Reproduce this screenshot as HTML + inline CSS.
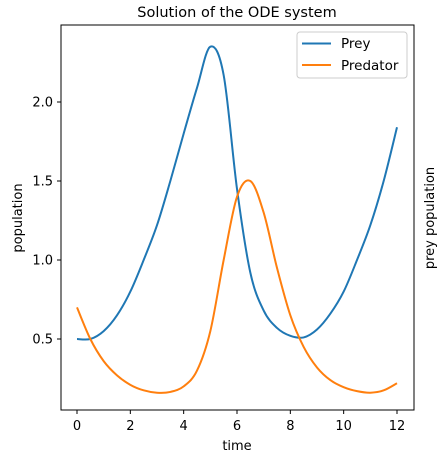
<!DOCTYPE html>
<html><head><meta charset="utf-8"><style>
body{margin:0;background:#fff;width:443px;height:463px;overflow:hidden}
text{font-family:"DejaVu Sans","Liberation Sans",sans-serif;fill:#000}
</style></head><body>
<svg id="chart" width="443" height="463" xmlns="http://www.w3.org/2000/svg">
<text x="237" y="17" font-size="14.5" text-anchor="middle">Solution of the ODE system</text>
<g id="ticks"></g>
<g id="lines"></g>
<rect x="61" y="25" width="353" height="385" fill="none" stroke="#000" stroke-width="1"/>
<text x="237" y="450" font-size="13" text-anchor="middle">time</text>
<text transform="translate(22,218) rotate(-90)" font-size="13" text-anchor="middle">population</text>
<text transform="translate(434,218) rotate(-90)" font-size="13" text-anchor="middle">prey population</text>
<g>
<rect x="297" y="32" width="110" height="46" rx="3" fill="#fff" fill-opacity="0.8" stroke="#ccc"/>
<line x1="302" y1="43.5" x2="331" y2="43.5" stroke="#1f77b4" stroke-width="2"/>
<text x="341" y="48" font-size="13.5">Prey</text>
<line x1="302" y1="65" x2="331" y2="65" stroke="#ff7f0e" stroke-width="2"/>
<text x="341" y="70" font-size="13.5">Predator</text>
</g>
</svg>
<script>
const times=[0,0.5,1,1.5,2,2.5,3,3.5,4,4.5,5,5.5,6,6.5,7,7.5,8,8.5,9,9.5,10,10.5,11,11.5,12];
const prey=[0.50,0.50,0.55,0.65,0.80,1.0,1.22,1.5,1.8,2.09,2.35,2.17,1.45,0.92,0.68,0.57,0.52,0.51,0.56,0.66,0.80,1.0,1.22,1.5,1.84];
const predator=[0.70,0.50,0.36,0.27,0.21,0.175,0.16,0.165,0.20,0.30,0.55,1.00,1.40,1.50,1.30,0.95,0.65,0.45,0.32,0.24,0.195,0.17,0.16,0.175,0.22];
const xTicks=[0,2,4,6,8,10,12];
const yTicks=[0.5,1.0,1.5,2.0];
const NS="http://www.w3.org/2000/svg";
function sx(t){return 77+t*(320/12);}
function sy(v){return 418-v*158;}
const tg=document.getElementById('ticks');
xTicks.forEach(t=>{
 const l=document.createElementNS(NS,'line');
 l.setAttribute('x1',sx(t));l.setAttribute('x2',sx(t));l.setAttribute('y1',410);l.setAttribute('y2',414);l.setAttribute('stroke','#000');
 
 
 tg.appendChild(l);
 const tx=document.createElementNS(NS,'text');
 tx.setAttribute('x',sx(t));tx.setAttribute('y',430);tx.setAttribute('font-size','13');tx.setAttribute('text-anchor','middle');
 tx.textContent=t;
 
 
 tg.appendChild(tx);
});
yTicks.forEach(v=>{
 const l=document.createElementNS(NS,'line');
 l.setAttribute('x1',57);l.setAttribute('x2',61);l.setAttribute('y1',sy(v));l.setAttribute('y2',sy(v));l.setAttribute('stroke','#000');
 
 
 tg.appendChild(l);
 const tx=document.createElementNS(NS,'text');
 tx.setAttribute('x',53);tx.setAttribute('y',sy(v)+4.5);tx.setAttribute('font-size','13');tx.setAttribute('text-anchor','end');
 tx.textContent=v.toFixed(1);
 
 
 tg.appendChild(tx);
});
function path(vals){
 const p=times.map((t,i)=>[sx(t),sy(vals[i])]);
 let d='M'+p[0][0]+','+p[0][1];
 for(let i=0;i<p.length-1;i++){
  const p0=p[Math.max(0,i-1)],p1=p[i],p2=p[i+1],p3=p[Math.min(p.length-1,i+2)];
  const c1=[p1[0]+(p2[0]-p0[0])/6,p1[1]+(p2[1]-p0[1])/6];
  const c2=[p2[0]-(p3[0]-p1[0])/6,p2[1]-(p3[1]-p1[1])/6];
  d+=' C'+c1[0]+','+c1[1]+' '+c2[0]+','+c2[1]+' '+p2[0]+','+p2[1];
 }
 return d;
}
const lg=document.getElementById('lines');
[[prey,'#1f77b4','prey-line'],[predator,'#ff7f0e','predator-line']].forEach(s=>{
 const e=document.createElementNS(NS,'path');
 e.setAttribute('d',path(s[0]));e.setAttribute('fill','none');e.setAttribute('stroke',s[1]);e.setAttribute('stroke-width','2');
 
 
 lg.appendChild(e);
});
</script>
</body></html>
